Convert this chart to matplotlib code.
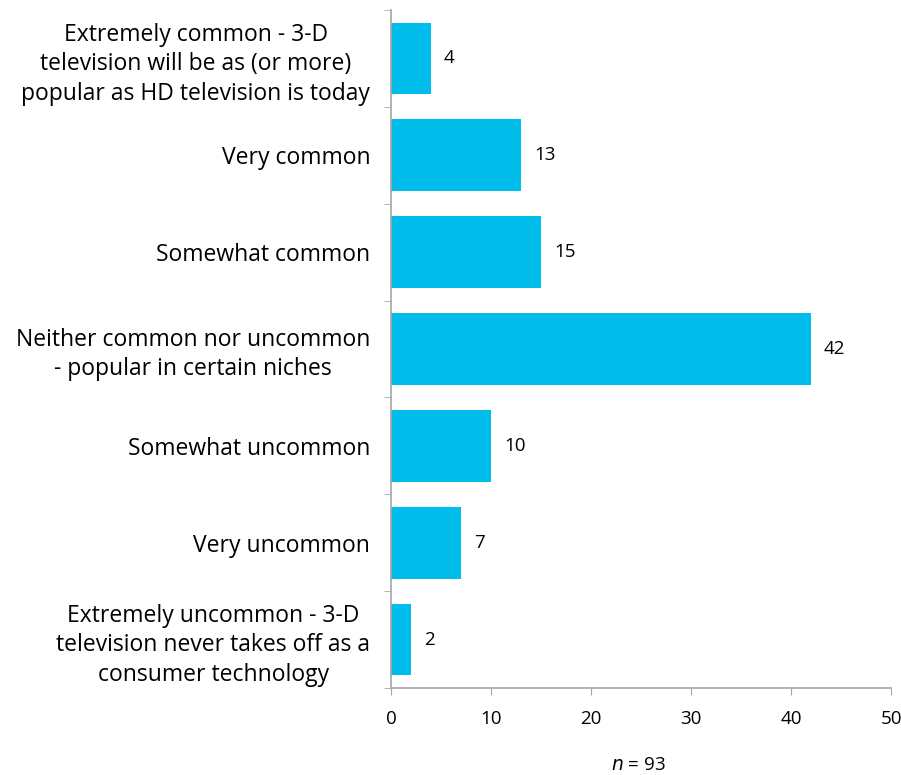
import matplotlib.pyplot as plt
import numpy as np

categories = [
    "Extremely common - 3-D\ntelevision will be as (or more)\npopular as HD television is today",
    "Very common",
    "Somewhat common",
    "Neither common nor uncommon\n- popular in certain niches",
    "Somewhat uncommon",
    "Very uncommon",
    "Extremely uncommon - 3-D\ntelevision never takes off as a\nconsumer technology",
]
values = [4, 13, 15, 42, 10, 7, 2]
xticks = [0, 10, 20, 30, 40, 50]

plt.rcParams['font.family'] = ['Open Sans', 'DejaVu Sans']
bar_color = '#00BDEB'
axis_color = '#A6A6A6'

fig = plt.figure(figsize=(9.01, 7.75), dpi=100)
ax = fig.add_axes([0.434, 0.1123, 0.555, 0.8748])

y = np.arange(len(categories))
ax.barh(y, values, height=0.74, color=bar_color)
for yi, v in zip(y, values):
    ax.text(v + 1.3, yi, str(v), va='center', ha='left', fontsize=13.5)

ax.set_ylim(len(categories) - 0.5, -0.5)
ax.set_xlim(0, 50)
ax.set_xticks(xticks)
ax.set_xticklabels([str(t) for t in xticks], fontsize=13.5)

ax.set_yticks(y)
ax.set_yticklabels(categories, fontsize=16.5, ha='right', multialignment='center',
                   linespacing=1.3)
ax.tick_params(axis='y', which='major', length=0, pad=15)
ax.set_yticks(np.arange(len(categories) + 1) - 0.5, minor=True)
ax.tick_params(axis='y', which='minor', length=5, color=axis_color, direction='out')
ax.tick_params(axis='x', length=5, color=axis_color, pad=11)

for s in ['top', 'right']:
    ax.spines[s].set_visible(False)
for s in ['left', 'bottom']:
    ax.spines[s].set_color(axis_color)
    ax.spines[s].set_linewidth(1.2)

fig.text(0.708, 0.013, r"$\it{n}$ = 93", ha='center', va='center', fontsize=13.5)

fig.savefig('out.png', dpi=100)
